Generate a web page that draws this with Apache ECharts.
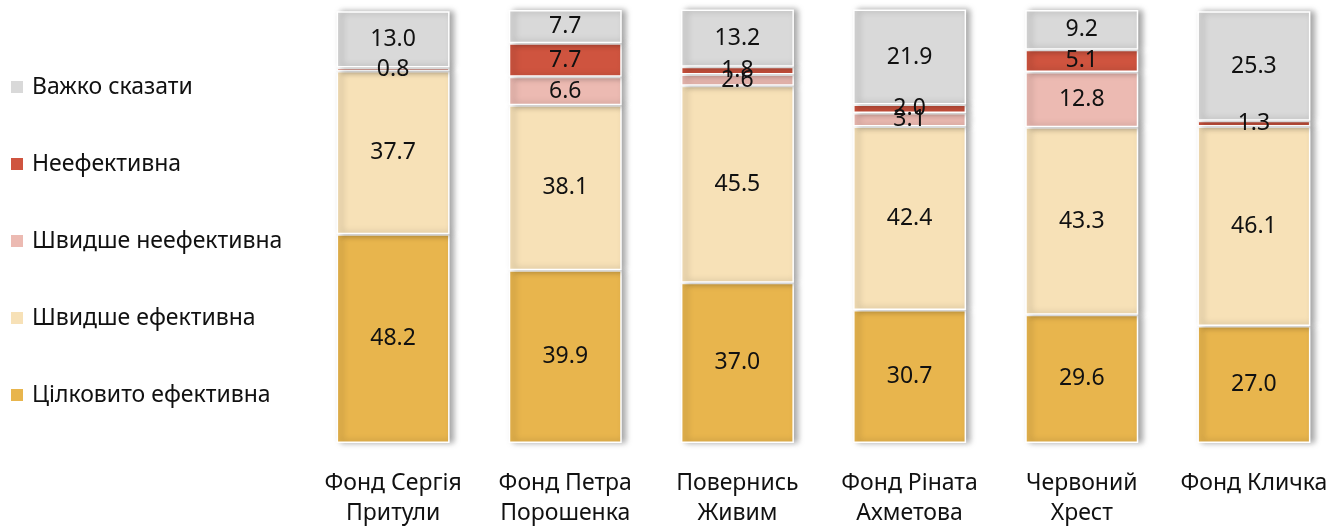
<!DOCTYPE html>
<html>
<head>
<meta charset="utf-8">
<script src="https://cdn.jsdelivr.net/npm/echarts@6.0.0/dist/echarts.min.js"></script>
<style>
  html, body { margin: 0; padding: 0; background: #fff; }
  #chart { width: 1344px; height: 526px; }
</style>
</head>
<body>
<div id="chart"></div>
<script>
// categories (funds)
const categories = [
    'Фонд Сергія\nПритули',
    'Фонд Петра\nПорошенка',
    'Повернись\nЖивим',
    'Фонд Ріната\nАхметова',
    'Червоний\nХрест',
    'Фонд Кличка'
];

// series values, bottom to top
const fullyEffective = [48.2, 39.9, 37.0, 30.7, 29.6, 27.0];
const ratherEffective = [37.7, 38.1, 45.5, 42.4, 43.3, 46.1];
const ratherIneffective = [null, 6.6, 2.6, 3.1, 12.8, null];
const ineffective = [0.8, 7.7, 1.8, 2.0, 5.1, 1.3];
const hardToSay = [13.0, 7.7, 13.2, 21.9, 9.2, 25.3];

const seriesNames = [
    'Цілковито ефективна',
    'Швидше ефективна',
    'Швидше неефективна',
    'Неефективна',
    'Важко сказати'
];
const seriesData = [fullyEffective, ratherEffective, ratherIneffective, ineffective, hardToSay];
const colors = ['#e8b54d', '#f7e1b7', '#ecbab2', '#cf543f', '#d9d9d9'];

const FONT = '"Noto Sans", sans-serif';

const chart = echarts.init(document.getElementById('chart'));

const series = seriesNames.map((name, i) => ({
    name: name,
    type: 'bar',
    stack: 'total',
    barWidth: 113,
    data: seriesData[i],
    itemStyle: {
        color: colors[i],
        borderColor: '#ffffff',
        borderWidth: 1.5,
        shadowColor: 'rgba(0,0,0,0.35)',
        shadowBlur: 6,
        shadowOffsetX: 4
    },
    label: {
        show: true,
        position: 'inside',
        color: '#111',
        fontFamily: FONT,
        fontSize: 23,
        formatter: (p) => (p.value == null ? '' : p.value.toFixed(1))
    },
    emphasis: { disabled: true }
}));

chart.setOption({
    animation: false,
    color: colors,
    grid: { left: 307, right: 4, top: 10, bottom: 83, outerBoundsMode: 'none' },
    legend: {
        orient: 'vertical',
        left: 9,
        top: 75,
        padding: 0,
        itemWidth: 14,
        itemHeight: 14,
        itemGap: 53,
        icon: 'rect',
        data: seriesNames.slice().reverse(),
        textStyle: {
            fontFamily: FONT,
            fontSize: 23,
            lineHeight: 24,
            color: '#111',
            padding: [0, 0, 0, 3]
        }
    },
    xAxis: {
        type: 'category',
        data: categories,
        axisLine: { show: false },
        axisTick: { show: false },
        axisLabel: {
            interval: 0,
            margin: 25,
            fontFamily: FONT,
            fontSize: 23,
            lineHeight: 30,
            color: '#111'
        }
    },
    yAxis: {
        type: 'value',
        min: 0,
        max: 100,
        show: false,
        splitLine: { show: false }
    },
    series: series
});
</script>
</body>
</html>
